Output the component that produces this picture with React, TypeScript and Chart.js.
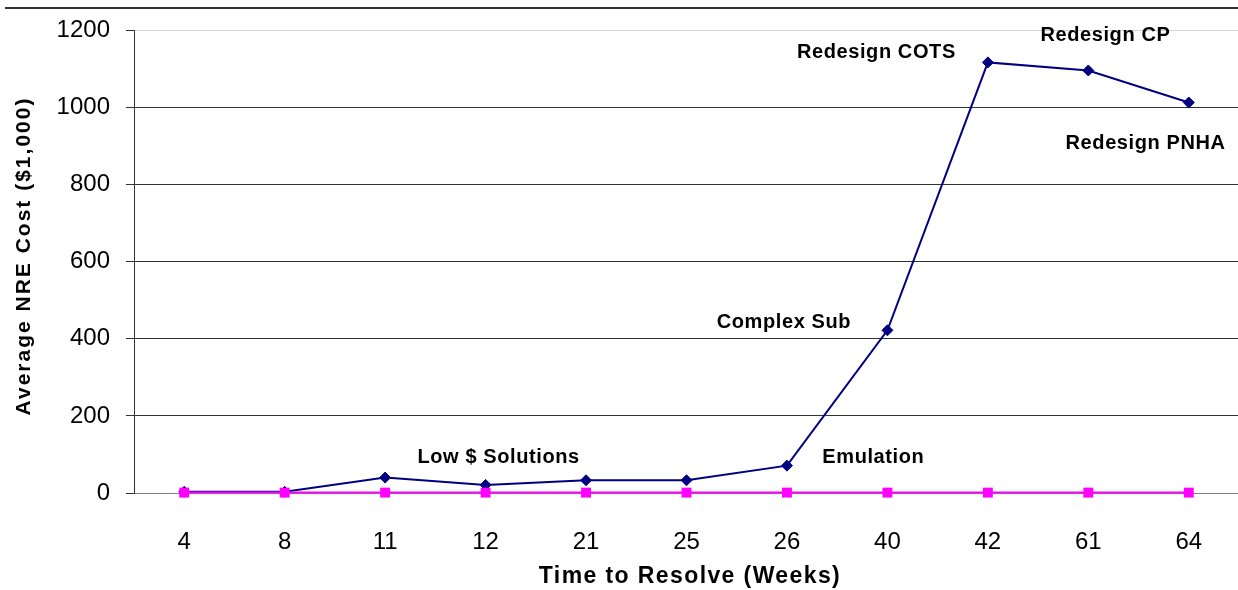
import { useEffect, useRef } from "react";
import { Chart, registerables } from "chart.js";

Chart.register(...registerables);

// ---- data ----
const categories = ["4", "8", "11", "12", "21", "25", "26", "40", "42", "61", "64"];
const nreCost = [3, 3, 40, 21, 33, 33, 71, 422, 1117, 1096, 1013];
const baselineCost = [1, 1, 1, 1, 1, 1, 1, 1, 1, 1, 1];
const yTickValues = [0, 200, 400, 600, 800, 1000, 1200];

// annotation texts, anchored in data space (category index, value)
const noteTexts = ["Low $ Solutions", "Emulation", "Complex Sub", "Redesign COTS", "Redesign CP", "Redesign PNHA"];
const noteCategoryIndex = [3.13, 6.86, 5.97, 6.89, 9.17, 9.57];
const noteValue = [91, 91, 443, 1142, 1187, 907];

const xTitle = "Time to Resolve (Weeks)";
const yTitle = "Average NRE Cost ($1,000)";

const FONT = "'Liberation Sans', Arial, sans-serif";

const textPlugin = {
  id: "textPlugin",
  beforeDraw(chart: any) {
    const ctx = chart.ctx;
    ctx.save();
    ctx.fillStyle = "#fff";
    ctx.fillRect(0, 0, chart.width, chart.height);
    ctx.strokeStyle = "#333";
    ctx.lineWidth = 2;
    ctx.beginPath();
    ctx.moveTo(5, 8);
    ctx.lineTo(chart.width, 8);
    ctx.stroke();
    ctx.restore();
  },
  afterDraw(chart: any) {
    const ctx = chart.ctx;
    const xs = chart.scales.x;
    const ys = chart.scales.y;
    ctx.save();
    ctx.fillStyle = "#000";
    ctx.textAlign = "center";
    ctx.textBaseline = "middle";
    ctx.letterSpacing = "0.6px";
    ctx.font = `bold 20px ${FONT}`;
    noteTexts.forEach((t, i) => {
      ctx.fillText(t, xs.getPixelForValue(noteCategoryIndex[i]), ys.getPixelForValue(noteValue[i]));
    });

    // x axis title
    ctx.textBaseline = "alphabetic";
    ctx.letterSpacing = "1.4px";
    ctx.font = `bold 23px ${FONT}`;
    ctx.fillText(xTitle, 690, 583);

    // y axis title
    ctx.letterSpacing = "2px";
    ctx.font = `bold 21px ${FONT}`;
    ctx.translate(30, 256);
    ctx.rotate(-Math.PI / 2);
    ctx.fillText(yTitle, 0, 0);
    ctx.restore();
  },
};

export default function App() {
  const canvasRef = useRef<HTMLCanvasElement | null>(null);

  useEffect(() => {
    const canvas = canvasRef.current;
    if (!canvas) return;
    const chart = new Chart(canvas, {
      type: "line",
      data: {
        labels: categories,
        datasets: [
          {
            label: "Baseline",
            data: baselineCost,
            borderColor: "#FF00FF",
            backgroundColor: "#FF00FF",
            borderWidth: 2,
            pointStyle: "rect",
            pointRadius: 7,
            pointBorderWidth: 0,
            tension: 0,
            clip: false,
          },
          {
            label: "Average NRE Cost",
            data: nreCost,
            borderColor: "#000080",
            backgroundColor: "#000080",
            borderWidth: 2,
            pointStyle: "rectRot",
            pointRadius: 5.5,
            pointBorderWidth: 1,
            tension: 0,
            clip: false,
          },
        ],
      },
      options: {
        animation: false,
        responsive: false,
        events: [],
        layout: { padding: { top: 30, right: 4, left: 0, bottom: 0 } },
        plugins: {
          legend: { display: false },
          tooltip: { enabled: false },
        },
        scales: {
          x: {
            type: "category",
            offset: true,
            grid: { display: false },
            border: { display: true, color: "#808080", width: 1 },
            ticks: {
              color: "#000",
              font: { family: FONT, size: 24 },
              padding: 27,
              maxRotation: 0,
              autoSkip: false,
            },
            afterFit(scale: any) {
              scale.height = 97;
            },
          },
          y: {
            min: 0,
            max: 1200,
            afterBuildTicks(scale: any) {
              scale.ticks = yTickValues.map((v) => ({ value: v }));
            },
            grid: {
              color: (c: any) =>
                c.tick && c.tick.value === 1200 ? "#d4d4d4" : c.tick && c.tick.value === 0 ? "#808080" : "#333",
              tickColor: "#333",
              tickLength: 8,
              lineWidth: 1,
            },
            border: { display: true, color: "#333", width: 1 },
            ticks: {
              color: "#000",
              font: { family: FONT, size: 24 },
              padding: 16,
              callback: (v: any) => String(v),
            },
            afterFit(scale: any) {
              scale.width = 134;
            },
          },
        },
      },
      plugins: [textPlugin],
    });
    return () => chart.destroy();
  }, []);

  return (
    <div
      style={{
        position: "absolute",
        left: 0,
        top: 0,
        width: 1238,
        height: 590,
        overflow: "hidden",
        background: "#fff",
      }}
    >
      <canvas ref={canvasRef} width={1246} height={590} style={{ display: "block", width: 1246, height: 590 }} />
    </div>
  );
}
